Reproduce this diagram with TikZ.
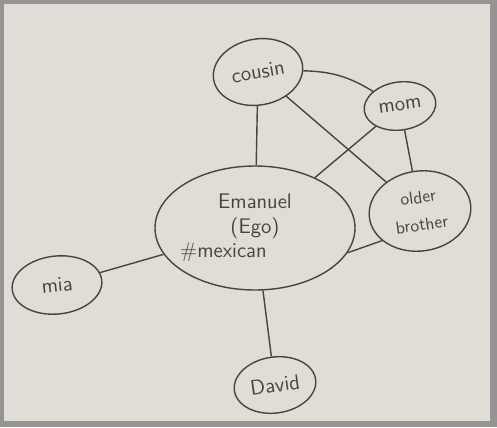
\documentclass[tikz,border=0pt]{standalone}
\usepackage{tikz}
\usetikzlibrary{shapes,positioning}
\definecolor{paper}{RGB}{224,221,214}
\definecolor{edge}{RGB}{150,148,146}
\definecolor{ink}{RGB}{72,68,64}
\tikzset{
  person/.style = {draw=ink, thick, ellipse, inner sep=0pt, text=ink, font=\sffamily\large},
  tie/.style = {draw=ink, thick}
}

\begin{document}
\begin{tikzpicture}[x = .02cm, y = -.02cm]
\fill[edge] (0,0) rectangle (497,427);
\fill[paper] (4,4) rectangle (490,421);

\node[person, minimum width=200*.02cm, minimum height=124*.02cm, align=center] (ego) at (255, 228) {Emanuel\\(Ego)\\\hspace*{-3em}\#mexican};
\node[person, minimum width=90*.02cm, minimum height=66*.02cm, rotate=10] (cousin) at (258, 72) {cousin};
\node[person, minimum width=72*.02cm, minimum height=48*.02cm, rotate=8] (mom) at (400, 106) {mom};
\node[person, minimum width=102*.02cm, minimum height=80*.02cm, rotate=8, align=center, font=\sffamily\linespread{1.3}\selectfont] (brother) at (420, 211) {older\\brother};
\node[person, minimum width=90*.02cm, minimum height=58*.02cm, rotate=6] (mia) at (57, 285) {mia};
\node[person, minimum width=82*.02cm, minimum height=56*.02cm, rotate=8] (david) at (275, 385) {David};

\draw[tie] (cousin) -- (ego);
\draw[tie] (cousin) to[bend left=15] (mom);
\draw[tie] (cousin) -- (brother);
\draw[tie] (mom) -- (ego);
\draw[tie] (mom) -- (brother);
\draw[tie] (ego.-15) -- (brother.210);
\draw[tie] (ego) -- (mia);
\draw[tie] (ego) -- (david);

\end{tikzpicture}
\end{document}
